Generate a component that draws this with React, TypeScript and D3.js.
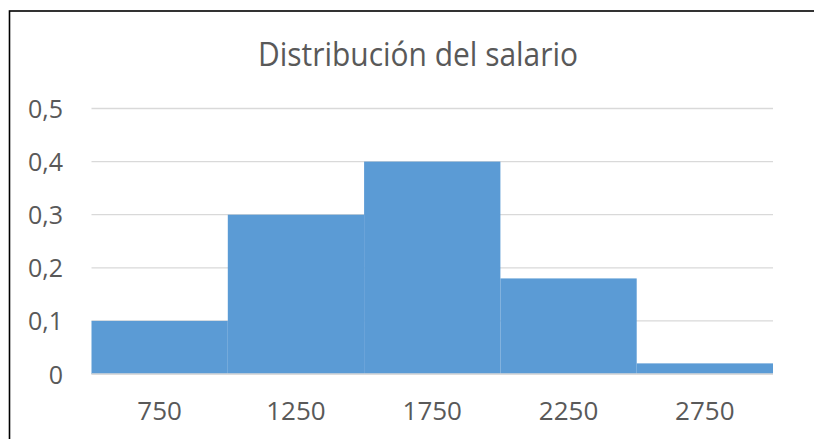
import React from "react";
import * as d3 from "d3";

const title = "Distribución del salario";
const categories = ["750", "1250", "1750", "2250", "2750"];
const values = [0.1, 0.3, 0.4, 0.18, 0.02];
const yTicks = [0, 0.1, 0.2, 0.3, 0.4, 0.5];

const W = 814;
const H = 439;
const FONT = "'Open Sans', 'Noto Sans', sans-serif";

export default function App() {
  const x = d3.scaleBand<string>().domain(categories).range([91.5, 773]).padding(0);
  const y = d3.scaleLinear().domain([0, 0.5]).range([374, 108.5]);
  const fmt = (v: number) => (v === 0 ? "0" : d3.format(".1f")(v).replace(".", ","));

  return (
    <svg
      width={W}
      height={H}
      style={{ position: "absolute", left: 0, top: 0, background: "#fff" }}
      fontFamily={FONT}
    >
      <rect x={0} y={0} width={W} height={H} fill="#fff" />
      <rect x={9.5} y={11} width={830} height={460} fill="#fff" stroke="#000" strokeWidth={1.6} />
      <text
        x={418}
        y={66}
        textAnchor="middle"
        fontSize={32}
        fill="#595959"
        textLength={320}
        lengthAdjust="spacingAndGlyphs"
      >
        {title}
      </text>
      {yTicks.map((t) => (
        <g key={t}>
          <line x1={91.5} x2={773} y1={y(t)} y2={y(t)} stroke="#D9D9D9" strokeWidth={1.3} />
          <text x={63} y={y(t) + 9.5} textAnchor="end" fontSize={25} fill="#595959">
            {fmt(t)}
          </text>
        </g>
      ))}
      {categories.map((c, i) => (
        <rect
          key={c}
          x={x(c)!}
          width={x.bandwidth()}
          y={y(values[i])}
          height={y(0) - y(values[i])}
          fill="#5B9BD5"
        />
      ))}
      <line x1={91.5} x2={773} y1={y(0)} y2={y(0)} stroke="#D9D9D9" strokeWidth={1.3} />
      {categories.map((c) => (
        <text
          key={c}
          x={x(c)! + x.bandwidth() / 2}
          y={420}
          textAnchor="middle"
          fontSize={26}
          fill="#595959"
        >
          {c}
        </text>
      ))}
    </svg>
  );
}
